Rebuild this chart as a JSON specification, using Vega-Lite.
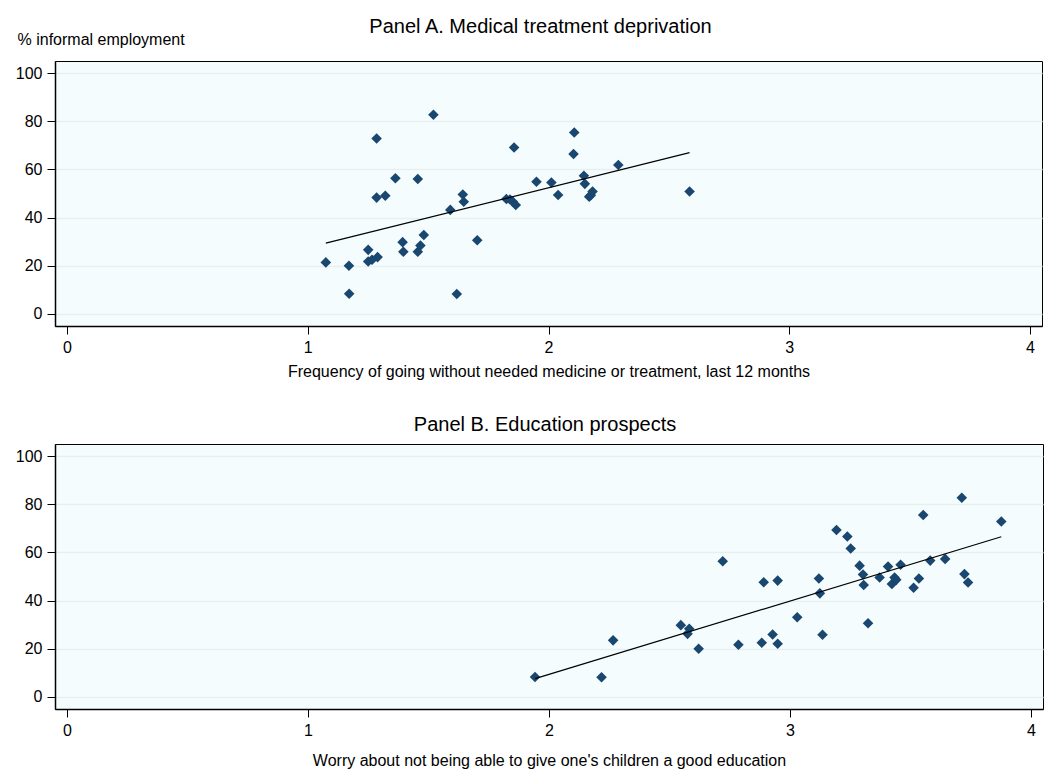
{
  "$schema": "https://vega.github.io/schema/vega-lite/v6.json",
  "background": "white",
  "padding": {"left": 14, "top": 16, "right": 4, "bottom": 2},
  "datasets": {
    "medical": [
      {"frequency": 1.075, "informal": 21.4}, {"frequency": 1.171, "informal": 20.0}, {"frequency": 1.172, "informal": 8.4},
      {"frequency": 1.251, "informal": 26.6}, {"frequency": 1.251, "informal": 21.8}, {"frequency": 1.267, "informal": 22.5},
      {"frequency": 1.29, "informal": 23.6}, {"frequency": 1.286, "informal": 72.8}, {"frequency": 1.286, "informal": 48.3},
      {"frequency": 1.322, "informal": 49.1}, {"frequency": 1.364, "informal": 56.3}, {"frequency": 1.457, "informal": 56.0},
      {"frequency": 1.522, "informal": 82.7}, {"frequency": 1.394, "informal": 29.8}, {"frequency": 1.397, "informal": 25.8},
      {"frequency": 1.457, "informal": 25.8}, {"frequency": 1.468, "informal": 28.4}, {"frequency": 1.482, "informal": 32.8},
      {"frequency": 1.592, "informal": 43.2}, {"frequency": 1.644, "informal": 49.6}, {"frequency": 1.648, "informal": 46.6},
      {"frequency": 1.619, "informal": 8.3}, {"frequency": 1.704, "informal": 30.6}, {"frequency": 1.825, "informal": 47.7},
      {"frequency": 1.84, "informal": 47.5}, {"frequency": 1.852, "informal": 46.6}, {"frequency": 1.864, "informal": 45.2},
      {"frequency": 1.857, "informal": 69.1}, {"frequency": 1.95, "informal": 54.9}, {"frequency": 2.012, "informal": 54.6},
      {"frequency": 2.04, "informal": 49.4}, {"frequency": 2.107, "informal": 75.3}, {"frequency": 2.104, "informal": 66.4},
      {"frequency": 2.147, "informal": 57.4}, {"frequency": 2.151, "informal": 54.0}, {"frequency": 2.169, "informal": 48.7},
      {"frequency": 2.176, "informal": 49.3}, {"frequency": 2.183, "informal": 50.8}, {"frequency": 2.29, "informal": 61.8},
      {"frequency": 2.586, "informal": 50.8}
    ],
    "medicalFit": [
      {"frequency": 1.075, "informal": 29.4}, {"frequency": 2.586, "informal": 67.0}
    ],
    "education": [
      {"worry": 1.942, "informal": 8.3}, {"worry": 2.218, "informal": 8.2}, {"worry": 2.266, "informal": 23.5},
      {"worry": 2.547, "informal": 29.8}, {"worry": 2.582, "informal": 28.3}, {"worry": 2.575, "informal": 26.2},
      {"worry": 2.621, "informal": 20.0}, {"worry": 2.721, "informal": 56.3}, {"worry": 2.786, "informal": 21.7},
      {"worry": 2.891, "informal": 47.6}, {"worry": 2.949, "informal": 48.3}, {"worry": 2.883, "informal": 22.5},
      {"worry": 2.928, "informal": 25.9}, {"worry": 2.949, "informal": 22.1}, {"worry": 3.03, "informal": 33.1},
      {"worry": 3.12, "informal": 49.2}, {"worry": 3.124, "informal": 43.0}, {"worry": 3.135, "informal": 25.8},
      {"worry": 3.193, "informal": 69.3}, {"worry": 3.238, "informal": 66.6}, {"worry": 3.252, "informal": 61.6},
      {"worry": 3.289, "informal": 54.5}, {"worry": 3.303, "informal": 50.8}, {"worry": 3.306, "informal": 46.5},
      {"worry": 3.324, "informal": 30.6}, {"worry": 3.372, "informal": 49.6}, {"worry": 3.407, "informal": 54.1},
      {"worry": 3.459, "informal": 54.9}, {"worry": 3.434, "informal": 49.6}, {"worry": 3.423, "informal": 46.9},
      {"worry": 3.441, "informal": 48.6}, {"worry": 3.535, "informal": 49.2}, {"worry": 3.513, "informal": 45.3},
      {"worry": 3.553, "informal": 75.5}, {"worry": 3.582, "informal": 56.6}, {"worry": 3.644, "informal": 57.3},
      {"worry": 3.713, "informal": 82.7}, {"worry": 3.724, "informal": 51.0}, {"worry": 3.739, "informal": 47.5},
      {"worry": 3.877, "informal": 72.8}
    ],
    "educationFit": [
      {"worry": 1.942, "informal": 7.6}, {"worry": 3.877, "informal": 66.5}
    ]
  },
  "config": {
    "font": "Liberation Sans",
    "view": {"fill": "#f4fcfe", "stroke": "#000000", "strokeWidth": 1},
    "axis": {
      "labelFont": "Liberation Sans", "titleFont": "Liberation Sans",
      "labelFontSize": 16, "titleFontSize": 16, "titleFontWeight": "normal",
      "labelColor": "#000000", "titleColor": "#000000",
      "tickColor": "#000000", "domainColor": "#000000", "domainWidth": 1.5, "tickWidth": 1,
      "gridColor": "#e8eff1", "gridWidth": 1.5
    },
    "axisX": {"grid": false, "tickSize": 8, "labelPadding": 5, "titlePadding": 8},
    "axisY": {"grid": true, "tickSize": 8, "labelPadding": 5},
    "title": {"font": "Liberation Sans", "fontSize": 20, "fontWeight": "normal", "color": "#000000"}
  },
  "columns": 1,
  "spacing": 34,
  "concat": [
    {
      "title": {"text": "Panel A. Medical treatment deprivation", "frame": "group", "dx": -8, "offset": -6},
      "width": 987,
      "height": 265,
      "layer": [
        {
          "data": {"name": "medical"},
          "mark": {"type": "point", "shape": "diamond", "filled": true, "size": 112, "color": "#1a476f", "opacity": 1},
          "encoding": {
            "x": {"field": "frequency", "type": "quantitative",
              "scale": {"domain": [-0.05, 4.05], "nice": false, "zero": false},
              "axis": {"title": "Frequency of going without needed medicine or treatment, last 12 months", "values": [0, 1, 2, 3, 4], "format": "d"}},
            "y": {"field": "informal", "type": "quantitative",
              "scale": {"domain": [-5, 105], "nice": false, "zero": false},
              "axis": {"title": "% informal employment", "values": [0, 20, 40, 60, 80, 100],
                "titleAngle": 0, "titleAlign": "left", "titleBaseline": "middle", "titleX": -38, "titleY": -22}}
          }
        },
        {
          "data": {"name": "medicalFit"},
          "mark": {"type": "line", "color": "#000000", "strokeWidth": 1.2},
          "encoding": {
            "x": {"field": "frequency", "type": "quantitative"},
            "y": {"field": "informal", "type": "quantitative"}
          }
        }
      ]
    },
    {
      "title": {"text": "Panel B. Education prospects", "frame": "group", "dx": -4, "offset": 9},
      "width": 988,
      "height": 265,
      "layer": [
        {
          "data": {"name": "education"},
          "mark": {"type": "point", "shape": "diamond", "filled": true, "size": 112, "color": "#1a476f", "opacity": 1},
          "encoding": {
            "x": {"field": "worry", "type": "quantitative",
              "scale": {"domain": [-0.05, 4.05], "nice": false, "zero": false},
              "axis": {"title": "Worry about not being able to give one's children a good education", "values": [0, 1, 2, 3, 4], "format": "d", "labelPadding": 5, "titlePadding": 14}},
            "y": {"field": "informal", "type": "quantitative",
              "scale": {"domain": [-5, 105], "nice": false, "zero": false},
              "axis": {"title": null, "values": [0, 20, 40, 60, 80, 100]}}
          }
        },
        {
          "data": {"name": "educationFit"},
          "mark": {"type": "line", "color": "#000000", "strokeWidth": 1.2},
          "encoding": {
            "x": {"field": "worry", "type": "quantitative"},
            "y": {"field": "informal", "type": "quantitative"}
          }
        }
      ]
    }
  ]
}
